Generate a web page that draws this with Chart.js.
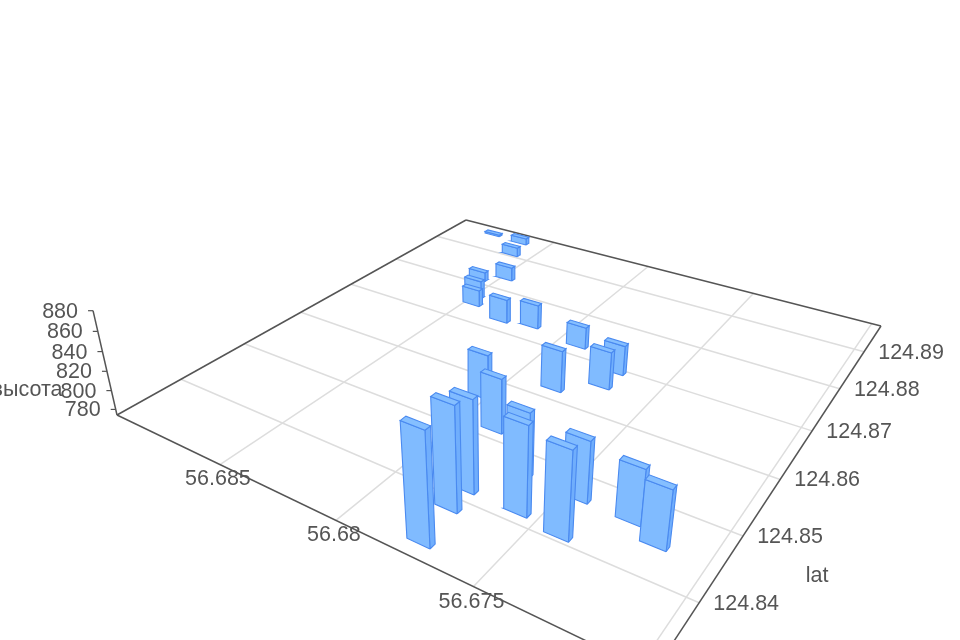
<!DOCTYPE html>
<html><head><meta charset="utf-8"><style>html,body{margin:0;background:#fff}canvas{display:block;filter:blur(0.4px)}</style>
<script src="https://cdn.jsdelivr.net/npm/chart.js@4"></script></head><body>
<canvas id="c" width="960" height="640"></canvas>
<script>
const lonTicks=[56.67,56.675,56.68,56.685];
const latTicks=[124.84,124.85,124.86,124.87,124.88,124.89];
const zTicks=[780,800,820,840,860,880];
const barLon=[56.67732,56.67757,56.67766,56.68030,56.67873,56.67667,56.67572,56.67415,56.67453,56.67271,56.67163,56.67837,56.67916,56.67700,56.67703,56.68465,56.68499,56.68580,56.68484,56.68287,56.68156,56.68603,56.68640,56.68803];
const barLat=[124.83321,124.83851,124.84171,124.85642,124.85170,124.84678,124.84160,124.84085,124.84652,124.84637,124.84459,124.86222,124.87236,124.86573,124.86939,124.87458,124.87656,124.88125,124.88347,124.87270,124.87358,124.89078,124.89507,124.89550];
const barHeight=[880,874,864,821,830,838,860,858,834,828,831,818,798,814,806,793,795,785,790,801,801,785,782,776];
const barSizeLon=0.00084,barSizeLat=0.00078;
const lonMin=56.66963,lonMax=56.69021,latMin=124.8311,latMax=124.8978,zMin=774,zMax=880;
const F=[653,673],L=[117,415],B=[466,220],R=[881,326],V=[494,2056];
const dx1=L[0]-B[0],dx2=R[0]-B[0],sx=F[0]-L[0]+B[0]-R[0],dy1=L[1]-B[1],dy2=R[1]-B[1],sy=F[1]-L[1]+B[1]-R[1];
const den=dx1*dy2-dx2*dy1,g=(sx*dy2-dx2*sy)/den,h=(dx1*sy-sx*dy1)/den;
const a=L[0]-F[0]+g*L[0],b=R[0]-F[0]+h*R[0],c=F[0],d=L[1]-F[1]+g*L[1],e=R[1]-F[1]+h*R[1],f=F[1];
const cz=(g+1)*(L[1]-310.7)/(310.7-V[1])/(zMax-zMin);
function proj(lon,lat,z){const u=(lon-lonMin)/(lonMax-lonMin),v=(lat-latMin)/(latMax-latMin),s=cz*(z-zMin);
 const W=g*u+h*v+1+s;return {x:(a*u+b*v+c+s*V[0])/W,y:(d*u+e*v+f+s*V[1])/W};}
const ds=[];
function poly(pts,fill,stroke,w){ds.push({data:pts.concat([pts[0]]),backgroundColor:fill,borderColor:stroke,borderWidth:w,pointRadius:0,fill:'shape',tension:0});}
function line(p,q,col,w){ds.push({data:[p,q],borderColor:col,borderWidth:w,pointRadius:0,fill:false});}
const hl=barSizeLon/2,hb=barSizeLat/2,edge='#4a8af0';
barLon.map((lon,i)=>({lon,lat:barLat[i],z:barHeight[i]})).sort((p,q)=>p.lat-q.lat).forEach(r=>{
 const x0=r.lon-hl,x1=r.lon+hl,y0=r.lat-hb,y1=r.lat+hb;
 poly([proj(x0,y0,r.z),proj(x1,y0,r.z),proj(x1,y1,r.z),proj(x0,y1,r.z)],'#85bfff',edge,1.1);
 poly([proj(x0,y0,zMin),proj(x1,y0,zMin),proj(x1,y0,r.z),proj(x0,y0,r.z)],'#80bbff',edge,1.1);
 poly([proj(x0,y0,zMin),proj(x0,y1,zMin),proj(x0,y1,r.z),proj(x0,y0,r.z)],'#70aefc',edge,1.1);
});
[[lonMin,latMin,lonMax,latMin],[lonMax,latMin,lonMax,latMax],[lonMax,latMax,lonMin,latMax],[lonMin,latMax,lonMin,latMin]].forEach(k=>line(proj(k[0],k[1],zMin),proj(k[2],k[3],zMin),'#555',1.5));
line(proj(lonMax,latMin,zMin),proj(lonMax,latMin,zMax),'#555',1.5);
zTicks.forEach(z=>{const p=proj(lonMax,latMin,z);line(p,{x:p.x-5,y:p.y},'#555',1.2);});
lonTicks.forEach(t=>line(proj(t,latMin,zMin),proj(t,latMax,zMin),'#ddd',1.5));
latTicks.forEach(t=>line(proj(lonMin,t,zMin),proj(lonMax,t,zMin),'#ddd',1.5));
const labels={id:'axisLabels',afterDatasetsDraw(ch){const x=ch.ctx;x.save();x.font='21.5px "Liberation Sans"';x.fillStyle='#555';x.textBaseline='middle';
 x.textAlign='center';
 lonTicks.slice(1).forEach(t=>{const p=proj(t,latMin,zMin);x.fillText(String(t),p.x-2,p.y+15);});
 latTicks.forEach(t=>{const p=proj(lonMin,t,zMin);x.fillText(String(t),p.x+47,p.y+1);});
 x.fillText('lat',817,576);x.fillText('высота',27,390);
 x.textAlign='right';zTicks.forEach(t=>{const p=proj(lonMax,latMin,t);x.fillText(String(t),p.x-15,p.y+1);});
 x.restore();}};
new Chart(document.getElementById('c'),{type:'line',data:{datasets:ds},plugins:[labels],options:{responsive:false,animation:false,layout:{padding:0},plugins:{legend:{display:false},tooltip:{enabled:false},title:{display:false}},scales:{x:{type:'linear',display:false,min:0,max:960},y:{type:'linear',display:false,min:0,max:640,reverse:true}}}});
</script></body></html>
